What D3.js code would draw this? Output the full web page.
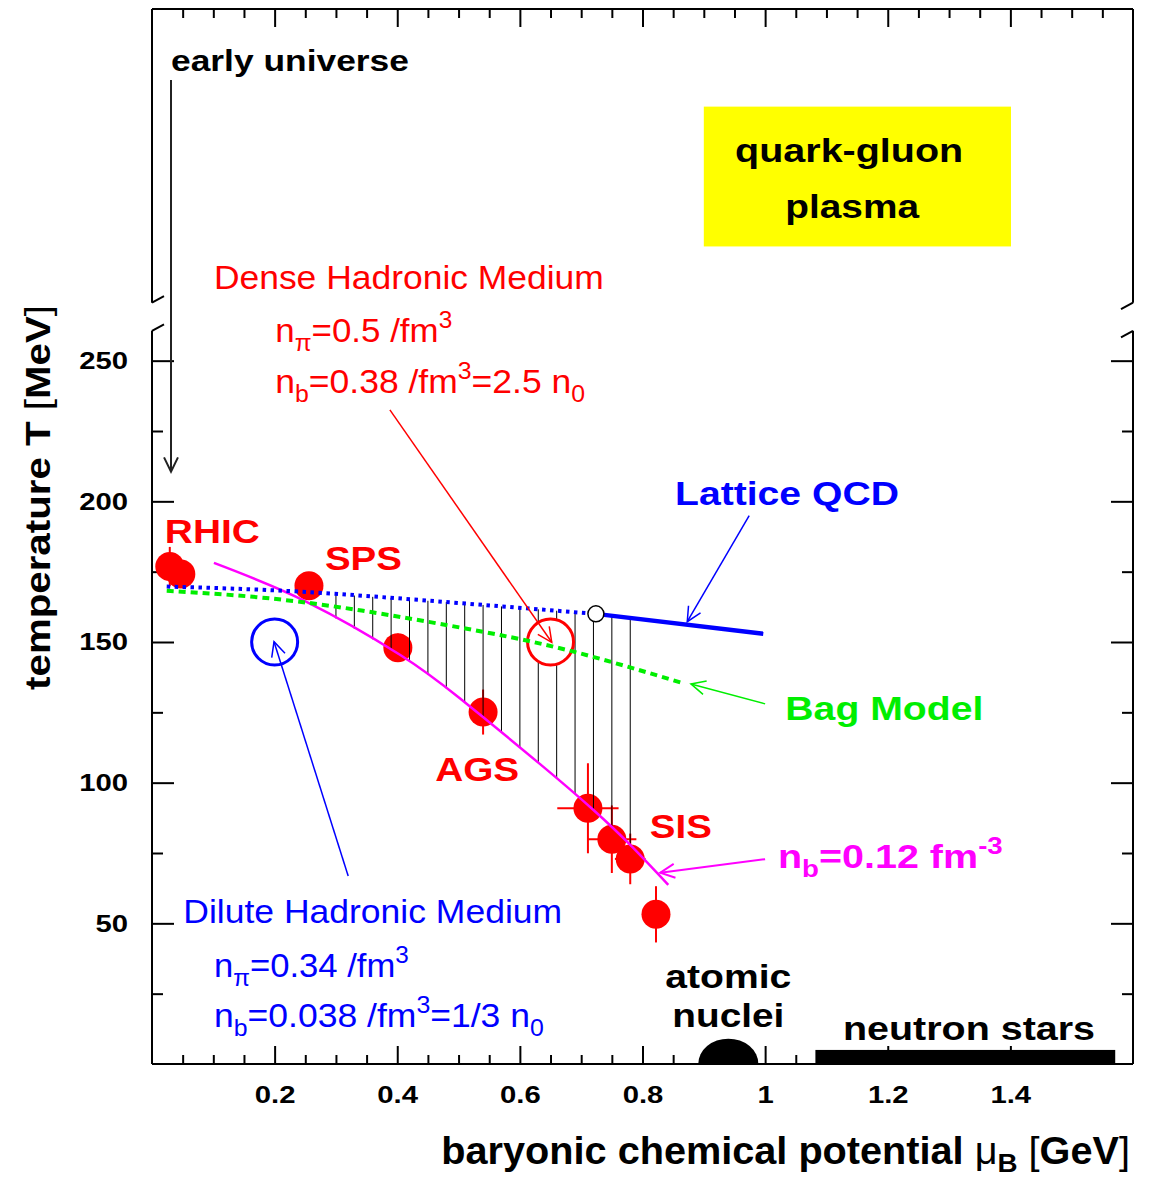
<!DOCTYPE html>
<html>
<head>
<meta charset="utf-8">
<script src="https://cdn.jsdelivr.net/npm/d3@7"></script>
<style>
  body { margin: 0; background: #fff; }
  svg { display: block; }
  text { font-family: "Liberation Sans", Arial, Helvetica, sans-serif; }
</style>
</head>
<body>
<svg id="chart" width="1149" height="1178"></svg>
<script>
// Chemical freeze-out points (RHIC, SPS, AGS, SIS)
const freezeMu    = [0.029, 0.047, 0.256, 0.401, 0.540, 0.711, 0.750, 0.780, 0.822];
const freezeT     = [176.8, 174.2, 170.0, 148.0, 125.1, 90.9, 79.9, 72.9, 53.2];
const freezeMuErr = [0, 0, 0, 0, 0, 0.05, 0.04, 0.025, 0];
const freezeTErr  = [7, 4, 0, 5, 8, 16, 12, 9, 10];

// Lattice QCD transition line: extrapolated (dotted) and computed (solid) parts
const latticeExtMu = [0.024, 0.241, 0.486, 0.724];
const latticeExtT  = [169.7, 167.9, 164.1, 160.0];
const latticeMu    = [0.724, 0.997];
const latticeT     = [160.0, 152.9];

// Bag model phase boundary
const bagMu = [0.024, 0.241, 0.486, 0.676, 0.867];
const bagT  = [168.2, 164.3, 155.8, 147.2, 135.3];

// Curve of constant baryon density n_b = 0.12 fm^-3
const densMu = [0.101, 0.252, 0.405, 0.502, 0.633, 0.720, 0.780, 0.842];
const densT  = [178.1, 164.3, 145.4, 130.0, 106.6, 90.3, 77.9, 63.7];

// Positions of the vertical hatching between lattice line and density curve
const hatchMu = [0.30, 0.33, 0.36, 0.39, 0.42, 0.45, 0.48, 0.51, 0.54,
                 0.57, 0.60, 0.63, 0.66, 0.69, 0.72, 0.75, 0.78];

// Axis ticks
const xMajorTicks = [0.2, 0.4, 0.6, 0.8, 1.0, 1.2, 1.4];
const xMinorTicks = [0.05, 0.1, 0.15, 0.25, 0.3, 0.35, 0.45, 0.5, 0.55, 0.65, 0.7, 0.75,
                     0.85, 0.9, 0.95, 1.05, 1.1, 1.15, 1.25, 1.3, 1.35, 1.45, 1.5, 1.55];
const yMajorTicks = [50, 100, 150, 200, 250];
const yMinorTicks = [25, 75, 125, 175, 225];

(function () {
const W = 1149, H = 1178;
const pL = 152, pR = 1133, pT = 9, pB = 1064;
const x = d3.scaleLinear().domain([0, 1.6]).range([pL, pR]);
const y = d3.scaleLinear().domain([0, 375]).range([pB, pT]);
const breakLo = 260.6, breakHi = 270.6;   // axis break on the temperature scale

const svg = d3.select("#chart");
svg.append("rect").attr("width", W).attr("height", H).attr("fill", "#fff");

const RED = "#ff0000", BLUE = "#0000ff", GREEN = "#00ee00", MAGENTA = "#ff00ff";

// stretch a text horizontally about its anchor point
function stretch(t, sx, anchor) {
  const bb = t.node().getBBox();
  const px = anchor === "end" ? bb.x + bb.width : anchor === "middle" ? bb.x + bb.width / 2 : bb.x;
  t.attr("transform", `translate(${px},0) scale(${sx},1) translate(${-px},0)`);
}
function fitWidth(t, width, anchor) {
  stretch(t, width / t.node().getBBox().width, anchor);
}

// ---------- axes & frame ----------
const frame = svg.append("g").attr("stroke", "#000").attr("stroke-width", 2).attr("fill", "none");
frame.append("line").attr("x1", pL).attr("x2", pR).attr("y1", pT).attr("y2", pT);
frame.append("line").attr("x1", pL).attr("x2", pR).attr("y1", pB).attr("y2", pB);
[pL, pR].forEach(px => {
  frame.append("line").attr("x1", px).attr("x2", px).attr("y1", pT).attr("y2", y(breakHi));
  frame.append("line").attr("x1", px).attr("x2", px).attr("y1", y(breakLo)).attr("y2", pB);
});
// break marks
const bd = 12, bs = 6.5;
frame.append("line").attr("x1", pL).attr("y1", y(breakHi)).attr("x2", pL + bd).attr("y2", y(breakHi) - bs);
frame.append("line").attr("x1", pL).attr("y1", y(breakLo)).attr("x2", pL + bd).attr("y2", y(breakLo) - bs);
frame.append("line").attr("x1", pR).attr("y1", y(breakHi)).attr("x2", pR - bd).attr("y2", y(breakHi) + bs);
frame.append("line").attr("x1", pR).attr("y1", y(breakLo)).attr("x2", pR - bd).attr("y2", y(breakLo) + bs);

function styleAxis(g, anchor) {
  g.select(".domain").remove();
  g.selectAll(".tick line").attr("stroke", "#000").attr("stroke-width", 2);
  g.selectAll("text").attr("font-size", 24).attr("font-weight", "bold").attr("fill", "#000")
    .attr("font-family", '"Liberation Sans", Arial, Helvetica, sans-serif')
    .each(function () { if (this.textContent) stretch(d3.select(this), 1.22, anchor); });
}
const fmtX = d => d === 1 ? "1" : d3.format(".1f")(d);

svg.append("g").attr("transform", `translate(0,${pB})`)
  .call(d3.axisBottom(x).tickValues(xMajorTicks).tickSize(-18).tickPadding(22).tickFormat(fmtX))
  .call(g => styleAxis(g, "middle"));
svg.append("g").attr("transform", `translate(0,${pB})`)
  .call(d3.axisBottom(x).tickValues(xMinorTicks).tickSize(-9).tickFormat("")).call(styleAxis);
svg.append("g").attr("transform", `translate(0,${pT})`)
  .call(d3.axisTop(x).tickValues(xMajorTicks).tickSize(-18).tickFormat("")).call(styleAxis);
svg.append("g").attr("transform", `translate(0,${pT})`)
  .call(d3.axisTop(x).tickValues(xMinorTicks).tickSize(-9).tickFormat("")).call(styleAxis);

svg.append("g").attr("transform", `translate(${pL},0)`)
  .call(d3.axisLeft(y).tickValues(yMajorTicks).tickSize(-22).tickPadding(24))
  .call(g => styleAxis(g, "end"));
svg.append("g").attr("transform", `translate(${pL},0)`)
  .call(d3.axisLeft(y).tickValues(yMinorTicks).tickSize(-11).tickFormat("")).call(styleAxis);
svg.append("g").attr("transform", `translate(${pR},0)`)
  .call(d3.axisRight(y).tickValues(yMajorTicks).tickSize(-22).tickFormat("")).call(styleAxis);
svg.append("g").attr("transform", `translate(${pR},0)`)
  .call(d3.axisRight(y).tickValues(yMinorTicks).tickSize(-11).tickFormat("")).call(styleAxis);

// ---------- text helper with sub/superscripts ----------
function label(g, px, py, parts, o) {
  const size = o.size, anchor = o.anchor || "start";
  const subK = o.sub !== undefined ? o.sub : 0.28;
  const t = g.append("text").attr("x", px).attr("y", py)
    .attr("font-size", size).attr("font-weight", o.weight || "normal")
    .attr("fill", o.fill || "#000").attr("text-anchor", anchor);
  let shift = 0;
  parts.forEach(p => {
    const [str, mode, fam] = Array.isArray(p) ? p : [p, ""];
    const target = mode === "sub" ? size * subK : mode === "sup" ? -size * 0.42 : 0;
    const ts = t.append("tspan").text(str);
    if (target - shift !== 0) ts.attr("dy", target - shift);
    if (mode) ts.attr("font-size", size * 0.7);
    if (fam === "thin") ts.attr("font-weight", "normal");
    shift = target;
  });
  if (o.width) fitWidth(t, o.width, anchor);
  return t;
}

// ---------- regions of matter ----------
const regions = svg.append("g");
regions.append("rect")
  .attr("x", x(0.900)).attr("y", y(340.3))
  .attr("width", x(1.401) - x(0.900)).attr("height", y(290.6) - y(340.3))
  .attr("fill", "#ffff00");
// atomic nuclei: half-disc sitting on the axis
regions.append("path")
  .attr("d", d3.arc()({ innerRadius: 0, outerRadius: 1, startAngle: -Math.PI / 2, endAngle: Math.PI / 2 }))
  .attr("transform", `translate(${x(0.94)},${y(0)}) scale(${x(0.94 + 0.049) - x(0.94)},${y(0) - y(9.0)})`)
  .attr("fill", "#000");
// neutron stars: bar along the axis
regions.append("rect")
  .attr("x", x(1.082)).attr("y", y(5))
  .attr("width", x(1.571) - x(1.082)).attr("height", y(0) - y(5))
  .attr("fill", "#000");

// ---------- freeze-out points ----------
const pts = d3.range(freezeMu.length).map(i => ({
  mu: freezeMu[i], T: freezeT[i], dmu: freezeMuErr[i], dT: freezeTErr[i]
}));
const pg = svg.append("g");
pg.selectAll(".ey").data(pts.filter(d => d.dT > 0)).join("line")
  .attr("x1", d => x(d.mu)).attr("x2", d => x(d.mu))
  .attr("y1", d => y(d.T - d.dT)).attr("y2", d => y(d.T + d.dT))
  .attr("stroke", RED).attr("stroke-width", 2);
pg.selectAll(".ex").data(pts.filter(d => d.dmu > 0)).join("line")
  .attr("x1", d => x(d.mu - d.dmu)).attr("x2", d => x(d.mu + d.dmu))
  .attr("y1", d => y(d.T)).attr("y2", d => y(d.T))
  .attr("stroke", RED).attr("stroke-width", 2);
pg.selectAll("circle").data(pts).join("circle")
  .attr("cx", d => x(d.mu)).attr("cy", d => y(d.T)).attr("r", 14.5)
  .attr("fill", RED);

// ---------- hatching between lattice line and n_b curve ----------
const latAll = latticeExtMu.map((m, i) => [m, latticeExtT[i]]).concat([[latticeMu[1], latticeT[1]]]);
function interp(pairs, m) {
  for (let i = 0; i < pairs.length - 1; i++) {
    if (m >= pairs[i][0] && m <= pairs[i + 1][0]) {
      const f = (m - pairs[i][0]) / (pairs[i + 1][0] - pairs[i][0]);
      return pairs[i][1] + f * (pairs[i + 1][1] - pairs[i][1]);
    }
  }
  return pairs[pairs.length - 1][1];
}
const densPairs = densMu.map((m, i) => [m, densT[i]]);
svg.append("g").selectAll("line").data(hatchMu).join("line")
  .attr("x1", d => x(d)).attr("x2", d => x(d))
  .attr("y1", d => y(interp(latAll, d))).attr("y2", d => y(interp(densPairs, d)))
  .attr("stroke", "#000").attr("stroke-width", 1);

// dense hadronic medium marker
svg.append("circle").attr("cx", x(0.65)).attr("cy", y(150)).attr("r", 23)
  .attr("fill", "#fff").attr("stroke", RED).attr("stroke-width", 3);

// ---------- curves ----------
const line = d3.line().x(d => x(d[0])).y(d => y(d[1]));
svg.append("path").datum(densPairs)
  .attr("d", line.curve(d3.curveNatural)).attr("fill", "none")
  .attr("stroke", MAGENTA).attr("stroke-width", 2.5);
svg.append("path").datum(latticeExtMu.map((m, i) => [m, latticeExtT[i]]))
  .attr("d", line.curve(d3.curveNatural)).attr("fill", "none")
  .attr("stroke", BLUE).attr("stroke-width", 4).attr("stroke-dasharray", "3.5,4.5");
svg.append("path").datum(latticeMu.map((m, i) => [m, latticeT[i]]))
  .attr("d", line.curve(d3.curveLinear)).attr("fill", "none")
  .attr("stroke", BLUE).attr("stroke-width", 4.5);
svg.append("path").datum(bagMu.map((m, i) => [m, bagT[i]]))
  .attr("d", line.curve(d3.curveNatural)).attr("fill", "none")
  .attr("stroke", GREEN).attr("stroke-width", 4).attr("stroke-dasharray", "7,5");

// dilute hadronic medium marker and critical end point
svg.append("circle").attr("cx", x(0.20)).attr("cy", y(150)).attr("r", 23)
  .attr("fill", "none").attr("stroke", BLUE).attr("stroke-width", 3);
svg.append("circle").attr("cx", x(0.724)).attr("cy", y(160.0)).attr("r", 8)
  .attr("fill", "#fff").attr("stroke", "#000").attr("stroke-width", 1.5);

// ---------- arrows ----------
function arrow(m1, t1, m2, t2, color, width) {
  const x1 = x(m1), y1 = y(t1), x2 = x(m2), y2 = y(t2);
  const a = Math.atan2(y2 - y1, x2 - x1), L = 16, s = 0.45;
  const g = svg.append("g").attr("stroke", color).attr("stroke-width", width).attr("fill", "none");
  g.append("line").attr("x1", x1).attr("y1", y1).attr("x2", x2).attr("y2", y2);
  g.append("path").attr("d",
    `M${x2 - L * Math.cos(a - s)},${y2 - L * Math.sin(a - s)}L${x2},${y2}L${x2 - L * Math.cos(a + s)},${y2 - L * Math.sin(a + s)}`);
}
arrow(0.031, 349.8, 0.031, 210.5, "#222", 2);
arrow(0.388, 232.5, 0.652, 149.9, RED, 1.5);
arrow(0.320, 66.8, 0.199, 150.1, BLUE, 1.5);
arrow(0.974, 194.9, 0.873, 157.2, BLUE, 1.5);
arrow(1.000, 128.0, 0.879, 135.1, GREEN, 1.5);
arrow(1.000, 72.8, 0.829, 68.0, MAGENTA, 2);

// ---------- annotations ----------
const ann = svg.append("g");
label(ann, x(0.031), y(353.0), ["early universe"], { size: 30, weight: "bold", width: 238 });
label(ann, x(1.137), y(320.6), ["quark-gluon"], { size: 34, weight: "bold", anchor: "middle", width: 228 });
label(ann, x(1.142), y(300.7), ["plasma"], { size: 34, weight: "bold", anchor: "middle", width: 135 });

label(ann, x(0.101), y(275.5), ["Dense Hadronic Medium"], { size: 33, fill: RED, width: 390 });
label(ann, x(0.201), y(256.6), ["n", ["π", "sub"], "=0.5 /fm", ["3", "sup"]], { size: 33, fill: RED, width: 177 });
label(ann, x(0.201), y(238.5), ["n", ["b", "sub"], "=0.38 /fm", ["3", "sup"], "=2.5 n", ["0", "sub"]], { size: 33, fill: RED, width: 310 });

label(ann, x(0.853), y(198.7), ["Lattice QCD"], { size: 33, weight: "bold", fill: BLUE, width: 224 });
label(ann, x(0.021), y(185.2), ["RHIC"], { size: 33, weight: "bold", fill: RED, width: 95 });
label(ann, x(0.282), y(175.6), ["SPS"], { size: 33, weight: "bold", fill: RED, width: 77 });
label(ann, x(1.033), y(122.3), ["Bag Model"], { size: 33, weight: "bold", fill: GREEN, width: 198 });
label(ann, x(0.462), y(100.6), ["AGS"], { size: 33, weight: "bold", fill: RED, width: 84 });
label(ann, x(0.812), y(80.3), ["SIS"], { size: 33, weight: "bold", fill: RED, width: 62 });
label(ann, x(1.021), y(69.7), ["n", ["b", "sub"], "=0.12 fm", ["-3", "sup"]], { size: 33, weight: "bold", fill: MAGENTA, width: 225 });

label(ann, x(0.051), y(50.1), ["Dilute Hadronic Medium"], { size: 33, fill: BLUE, width: 379 });
label(ann, x(0.101), y(30.9), ["n", ["π", "sub"], "=0.34 /fm", ["3", "sup"]], { size: 33, fill: BLUE, width: 195 });
label(ann, x(0.101), y(13.2), ["n", ["b", "sub"], "=0.038 /fm", ["3", "sup"], "=1/3 n", ["0", "sub"]], { size: 33, fill: BLUE, width: 330 });

label(ann, x(0.94), y(27.0), ["atomic"], { size: 33, weight: "bold", anchor: "middle", width: 126 });
label(ann, x(0.94), y(13.2), ["nuclei"], { size: 33, weight: "bold", anchor: "middle", width: 112 });
label(ann, x(1.127), y(8.5), ["neutron stars"], { size: 33, weight: "bold", width: 252 });

// ---------- axis titles ----------
label(svg, 1130, 1164, ["baryonic chemical potential ", ["μ", "", "thin"], ["B", "sub"], " ", ["[", "", "thin"], "GeV", ["]", "", "thin"]],
  { size: 38, weight: "bold", anchor: "end", width: 689, sub: 0.2 });
const yt = svg.append("g").attr("transform", "translate(50,305) rotate(-90)");
label(yt, 0, 0, ["temperature T ", ["[", "", "thin"], "MeV", ["]", "", "thin"]], { size: 36, weight: "bold", anchor: "end", width: 385 });
})();
</script>
</body>
</html>
